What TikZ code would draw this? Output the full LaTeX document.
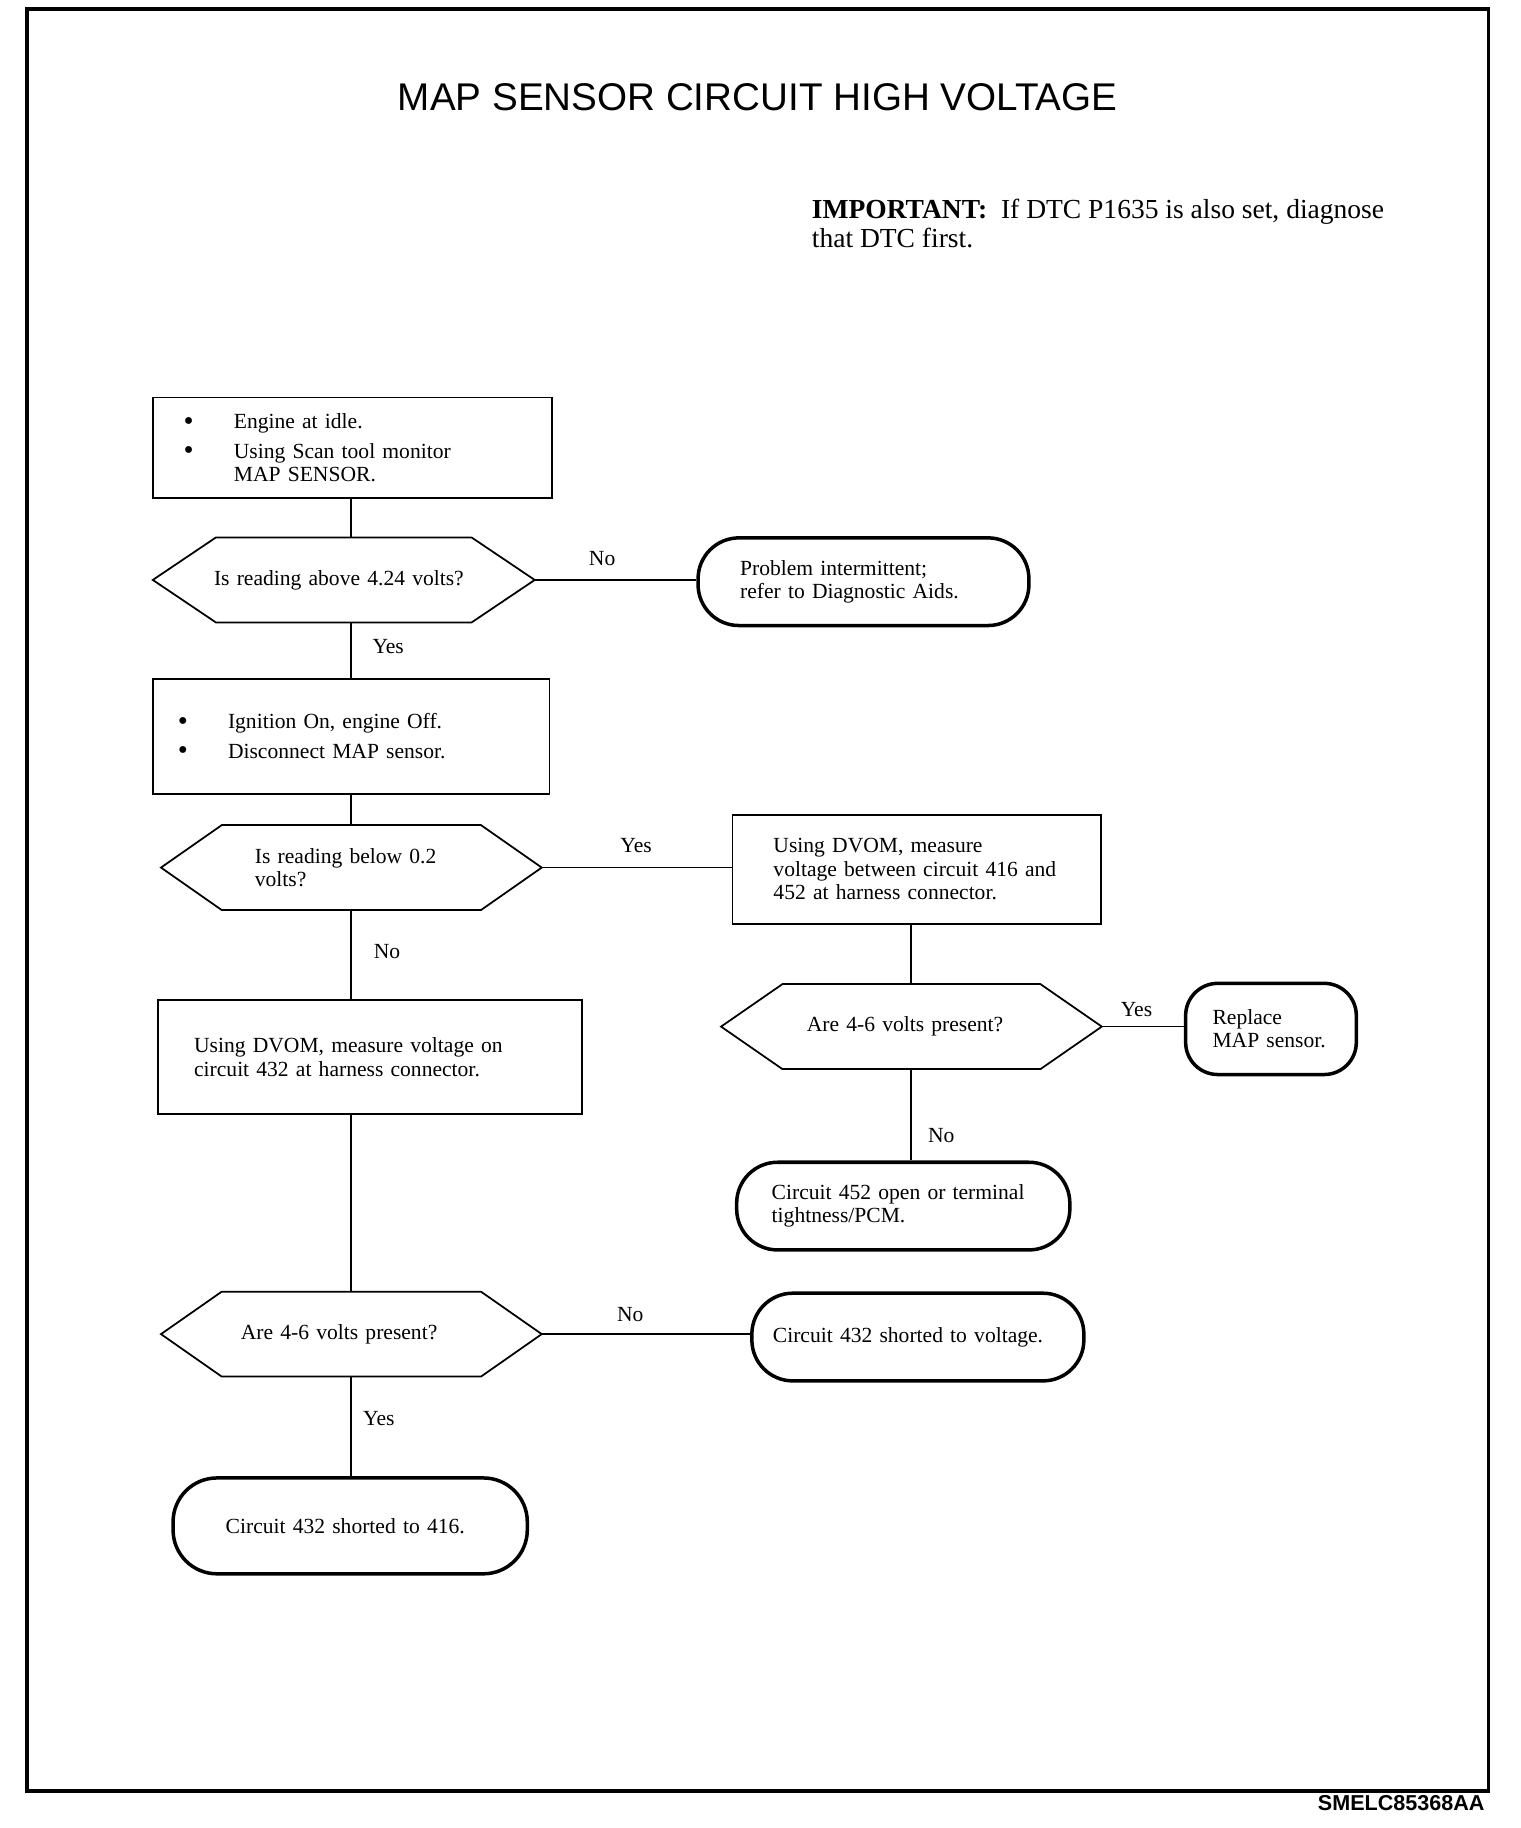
\documentclass[tikz,border=0pt]{standalone}
\usepackage{fontspec}
\setmainfont{Liberation Serif}
\newfontfamily\sansf{Liberation Sans}
\usetikzlibrary{shapes.misc}
\newcommand{\bodyf}{\fontsize{10.5pt}{11.38pt}\selectfont}
\newcommand{\bul}{\makebox[0.86cm][l]{\raisebox{-0.6pt}{\fontsize{14pt}{14pt}\selectfont\textbullet}}}
\newcommand{\hexo}[2]{\draw[hexline] (#1.west) -- ([xshift=#2]#1.north west) -- ([xshift=-#2]#1.north east) -- (#1.east) -- ([xshift=-#2]#1.south east) -- ([xshift=#2]#1.south west) -- cycle;}
\begin{document}
\begin{tikzpicture}[x=0.02cm,y=-0.02cm,
  box/.style={draw, rectangle, line width=0.03cm, inner sep=0pt, font=\bodyf, align=left},
  term/.style={draw, rectangle, rounded corners=0.7cm, line width=0.06cm, inner sep=0pt, font=\bodyf, align=left},
  hexnode/.style={rectangle, inner sep=0pt, minimum height=1.44cm, font=\bodyf, align=left},
  hexline/.style={line width=0.03cm},
  conn/.style={line width=0.03cm},
  lbl/.style={inner sep=0pt, font=\bodyf}]
\useasboundingbox (0,0) rectangle (1300,1563.4);
\fill[white] (0,0) rectangle (1300,1563.4);
% frame
\draw[line width=0.065cm] (23,8) rectangle (1273,1532);
\node[inner sep=0pt, anchor=east, font=\sansf\bfseries\fontsize{10.5pt}{12pt}\selectfont] (foot) at (1270,1542) {SMELC85368AA};
% title and note
\node[inner sep=0pt, font=\sansf\fontsize{18.8pt}{22pt}\selectfont] (title) at (648,83) {MAP SENSOR CIRCUIT HIGH VOLTAGE};
\node[inner sep=0pt, anchor=west, align=left, font=\fontsize{13.4pt}{14.2pt}\selectfont] (note) at (694,191)
  {\textbf{IMPORTANT:}\ \ If DTC P1635 is also set, diagnose\\that DTC first.};
\coordinate (colL) at (300,0);
\coordinate (colR) at (779,0);
% nodes
\node[box, minimum width=6.82cm, minimum height=1.72cm, text width=5.78cm] (b1) at (301.5,383)
  {\bul\mbox{Engine at idle.}\\[0.1cm]\bul\mbox{Using Scan tool monitor}\\\hspace*{0.86cm}\mbox{MAP SENSOR.}};
\node[hexnode, minimum width=6.52cm, text width=4.44cm] (h1) at (294,496) {\mbox{Is reading above 4.24 volts?}};
\hexo{h1}{1.08cm}
\node[term, minimum width=5.66cm, minimum height=1.5cm, text width=4.22cm] (t1) at (738.5,497.5)
  {\mbox{Problem intermittent;}\\\mbox{refer to Diagnostic Aids.}};
\node[box, minimum width=6.78cm, minimum height=1.96cm, text width=5.94cm] (b2) at (300.5,630)
  {\bul\mbox{Ignition On, engine Off.}\\[0.1cm]\bul\mbox{Disconnect MAP sensor.}};
\node[hexnode, minimum width=6.5cm, text width=3.3cm] (h2) at (300.5,742) {\mbox{Is reading below 0.2}\\\mbox{volts?}};
\hexo{h2}{1.04cm}
\node[box, minimum width=6.3cm, minimum height=1.86cm, text width=4.9cm] (b3) at (784,743.5)
  {\mbox{Using DVOM, measure}\\\mbox{voltage between circuit 416 and}\\\mbox{452 at harness connector.}};
\node[hexnode, minimum width=6.5cm, text width=3.58cm] (h3) at (779.5,878) {\mbox{Are 4-6 volts present?}};
\hexo{h3}{1.05cm}
\node[term, rounded corners=0.55cm, minimum width=2.92cm, minimum height=1.56cm, text width=2.0cm] (t2) at (1087,880)
  {\mbox{Replace}\\\mbox{MAP sensor.}};
\node[term, minimum width=5.7cm, minimum height=1.5cm, text width=4.5cm] (t3) at (772.5,1031.5)
  {\mbox{Circuit 452 open or terminal}\\\mbox{tightness/PCM.}};
\node[box, minimum width=7.26cm, minimum height=1.96cm, text width=6.02cm] (b4) at (316.5,904)
  {\mbox{Using DVOM, measure voltage on}\\\mbox{circuit 432 at harness connector.}};
\node[hexnode, minimum width=6.5cm, text width=3.78cm] (h4) at (300.5,1141) {\mbox{Are 4-6 volts present?}};
\hexo{h4}{1.04cm}
\node[term, minimum width=5.68cm, minimum height=1.5cm, text width=4.96cm] (t4) at (785,1143.5)
  {\mbox{Circuit 432 shorted to voltage.}};
\node[term, rounded corners=0.75cm, minimum width=6.06cm, minimum height=1.64cm, text width=4.26cm] (t5) at (299.5,1305)
  {\mbox{Circuit 432 shorted to 416.}};
% connectors
\draw[conn] (b1.south -| colL) -- (h1.north -| colL);
\draw[conn] (h1.east) -- (h1.east -| t1.west);
\draw[conn] (h1.south -| colL) -- (b2.north -| colL);
\draw[conn] (b2.south -| colL) -- (h2.north -| colL);
\draw[conn] (h2.east) -- (h2.east -| b3.west);
\draw[conn] (b3.south -| colR) -- (h3.north -| colR);
\draw[conn] (h3.east) -- (h3.east -| t2.west);
\draw[conn] (h3.south -| colR) -- (t3.north -| colR);
\draw[conn] (h2.south -| colL) -- (b4.north -| colL);
\draw[conn] (b4.south -| colL) -- (h4.north -| colL);
\draw[conn] (h4.east) -- (h4.east -| t4.west);
\draw[conn] (h4.south -| colL) -- (t5.north -| colL);
% labels
\node[lbl] (l1) at (515,478) {No};
\node[lbl] (l2) at (332,553) {Yes};
\node[lbl] (l3) at (544,723) {Yes};
\node[lbl] (l4) at (331,814) {No};
\node[lbl] (l5) at (972,863) {Yes};
\node[lbl] (l6) at (805,971) {No};
\node[lbl] (l7) at (539,1124) {No};
\node[lbl] (l8) at (324,1213) {Yes};
\end{tikzpicture}
\end{document}
